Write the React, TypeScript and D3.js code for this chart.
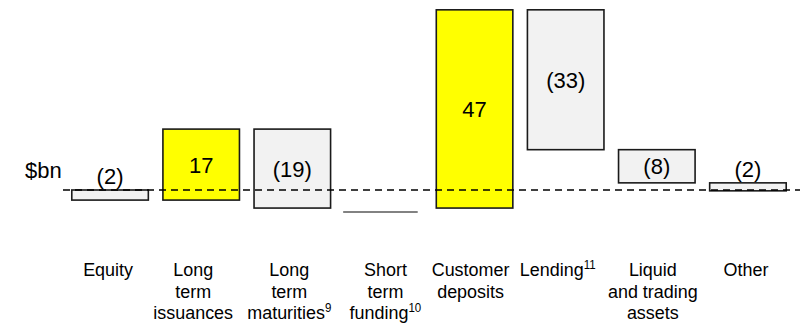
import React, { useRef, useEffect } from "react";
import * as d3 from "d3";

const categories = ["Equity", "LTI", "LTM", "STF", "CD", "Lending", "Liquid", "Other"];
const catLines = [
  ["Equity"],
  ["Long", "term", "issuances"],
  ["Long", "term", "maturities"],
  ["Short", "term", "funding"],
  ["Customer", "deposits"],
  ["Lending"],
  ["Liquid", "and trading", "assets"],
  ["Other"],
];
const catNotes = ["", "", "9", "10", "", "11", "", ""];
const values = [-2.4, 16.9, -18.8, 0, 47.2, -33.3, -7.9, -1.9];
const valueLabels = ["(2)", "17", "(19)", "", "47", "(33)", "(8)", "(2)"];
const positive = [false, true, false, false, true, false, false, false];

// small horizontal nudges of the category text boxes (layout only)
const labelNudge = [-2, -8, -3, 2, -4, -8, -4, -2];

const W = 810;
const H = 324;

const App = () => {
  const ref = useRef<SVGSVGElement>(null);

  useEffect(() => {
    const svg = d3.select(ref.current);
    svg.selectAll("*").remove();

    const x = d3.scaleBand().domain(categories).range([64.5, 793.5]).paddingInner(0.16).paddingOuter(0.08);
    const y = d3.scaleLinear().domain([0, 45]).range([190, 1]);

    // waterfall steps
    let cum = 0;
    const steps = values.map((v, i) => {
      const start = cum;
      cum += v;
      return { cat: categories[i], start, end: cum, v, i };
    });

    const font = "Arial, 'Liberation Sans', sans-serif";

    steps.forEach(s => {
      const bx = x(s.cat)!;
      const bw = x.bandwidth();
      if (s.v === 0) {
        svg.append("line")
          .attr("x1", bx - 2).attr("x2", bx + bw - 4)
          .attr("y1", y(s.start) + 4).attr("y2", y(s.start) + 4)
          .attr("stroke", "#595959").attr("stroke-width", 1.5);
        return;
      }
      const top = y(Math.max(s.start, s.end));
      const bot = y(Math.min(s.start, s.end));
      svg.append("rect")
        .attr("x", bx).attr("y", top)
        .attr("width", bw).attr("height", bot - top)
        .attr("fill", positive[s.i] ? "#ffff00" : "#f2f2f2")
        .attr("stroke", "#1a1a1a").attr("stroke-width", 1.6);

      const h = bot - top;
      const ly = h > 28 ? (top + bot) / 2 + 8 : top - 6;
      svg.append("text")
        .attr("x", bx + bw / 2).attr("y", ly)
        .attr("text-anchor", "middle")
        .attr("font-family", font).attr("font-size", 22)
        .attr("fill", "#000")
        .text(valueLabels[s.i]);
    });

    // zero line
    svg.append("line")
      .attr("x1", 63).attr("x2", 800)
      .attr("y1", y(0)).attr("y2", y(0))
      .attr("stroke", "#000").attr("stroke-width", 1.6)
      .attr("stroke-dasharray", "7,5");

    svg.append("text")
      .attr("x", 25).attr("y", 178)
      .attr("font-family", font).attr("font-size", 22)
      .text("$bn");

    // category labels
    categories.forEach((c, i) => {
      const cx = x(c)! + x.bandwidth() / 2 + labelNudge[i];
      const lines = catLines[i];
      lines.forEach((ln, j) => {
        const t = svg.append("text")
          .attr("transform", `translate(${cx},${276 + j * 21.5}) scale(0.96,1)`)
          .attr("text-anchor", "middle")
          .attr("font-family", font).attr("font-size", 18.7)
          .attr("fill", "#000");
        t.append("tspan").text(ln);
        if (j === lines.length - 1 && catNotes[i]) {
          t.append("tspan").attr("font-size", 12).attr("dy", -7).text(catNotes[i]);
        }
      });
    });
  }, []);

  return (
    <svg ref={ref} width={W} height={H} style={{ display: "block", position: "absolute", left: 0, top: 0, background: "#fff" }} />
  );
};

export default App;
